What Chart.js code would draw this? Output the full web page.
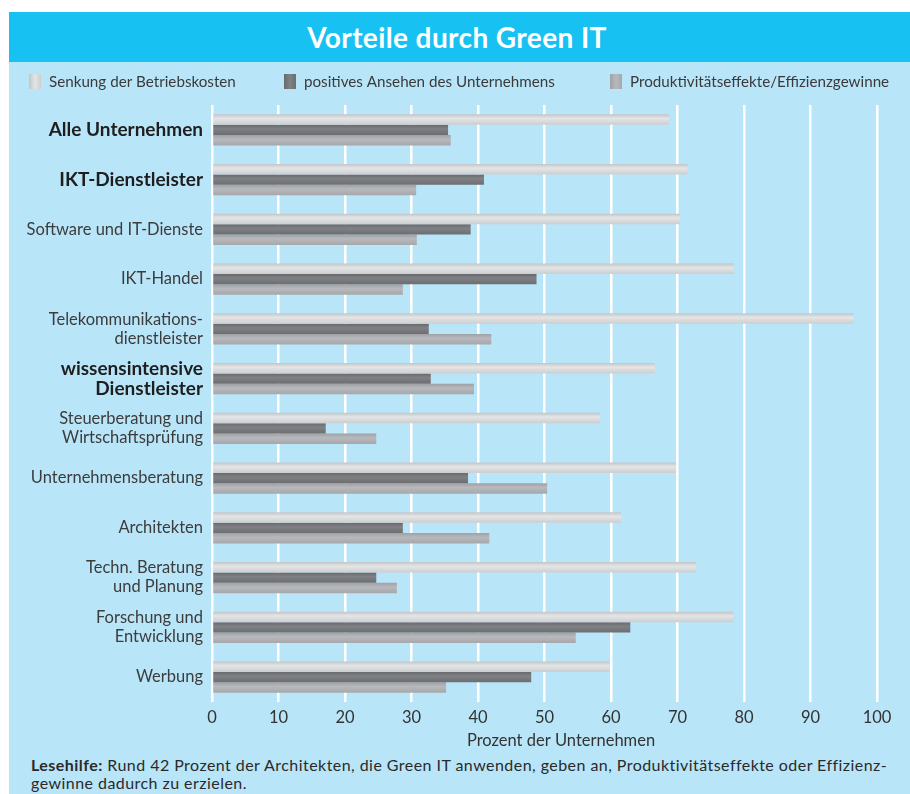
<!DOCTYPE html>
<html>
<head>
<meta charset="utf-8">
<script src="https://cdn.jsdelivr.net/npm/chart.js@4"></script>
<style>
  body { margin: 0; width: 910px; height: 794px; background: #fff; position: relative; overflow: hidden; font-family: Lato, "Open Sans", sans-serif; }
  #panel { position: absolute; left: 9px; top: 12px; right: 0; bottom: 0; background: #b9e5f9; }
  #banner { position: absolute; left: 9px; top: 12px; right: 0; height: 50px; background: #17c2f2; color: #fff;
            font-weight: bold; font-size: 28px; letter-spacing: 0.4px; line-height: 50px; text-align: center; padding-right: 5px; }
  #chart { position: absolute; left: 0; top: 62px; }
  #note { position: absolute; left: 31px; top: 756px; font-size: 16px; letter-spacing: 0.45px; line-height: 18px; color: #2a2a2a; white-space: nowrap; }
</style>
</head>
<body>
<div id="panel"></div>
<div id="banner">Vorteile durch Green IT</div>
<canvas id="chart" width="910" height="690"></canvas>
<div id="note"><b>Lesehilfe:</b> Rund 42 Prozent der Architekten, die Green IT anwenden, geben an, Produktivitätseffekte oder Effizienz-<br>gewinne dadurch zu erzielen.</div>
<script>
document.addEventListener("DOMContentLoaded", function () {
  const categories = [
    "Alle Unternehmen",
    "IKT-Dienstleister",
    "Software und IT-Dienste",
    "IKT-Handel",
    ["Telekommunikations-", "dienstleister"],
    ["wissensintensive", "Dienstleister"],
    ["Steuerberatung und", "Wirtschaftsprüfung"],
    "Unternehmensberatung",
    "Architekten",
    ["Techn. Beratung", "und Planung"],
    ["Forschung und", "Entwicklung"],
    "Werbung"
  ];
  const boldRows = [0, 1, 5];

  const seriesNames = ["Senkung der Betriebskosten", "positives Ansehen des Unternehmens", "Produktivitätseffekte/Effizienzgewinne"];
  const senkung = [68.7, 71.5, 70.4, 78.5, 96.5, 66.6, 58.3, 69.8, 61.5, 72.8, 78.4, 59.8];
  const ansehen = [35.5, 40.9, 38.9, 48.8, 32.6, 32.9, 17.1, 38.5, 28.7, 24.7, 62.9, 48.0];
  const produktiv = [35.9, 30.7, 30.8, 28.7, 42.0, 39.4, 24.7, 50.4, 41.7, 27.8, 54.7, 35.2];
  const xTicks = [0, 10, 20, 30, 40, 50, 60, 70, 80, 90, 100];
  const xTitle = "Prozent der Unternehmen";

  // gradient stops per series: edge, middle, edge
  const shades = [
    ["#c3c4c6", "#e4e5e7", "#cdcecf"],
    ["#68696d", "#808185", "#6c6d71"],
    ["#a0a1a4", "#b8b9bc", "#a6a7aa"]
  ];
  const swatch = ["#d6d7d9", "#747579", "#adaeb1"];
  const catPct = 0.63;

  function barGradient(ctx) {
    const chart = ctx.chart;
    const y = chart.scales.y;
    if (!y || ctx.type !== "data") return swatch[ctx.datasetIndex];
    const band = (y.bottom - y.top) / categories.length;
    const size = band * catPct / 3;
    const c = y.getPixelForValue(ctx.dataIndex) + (ctx.datasetIndex - 1) * size;
    if (!isFinite(c) || !isFinite(size) || size <= 0) return swatch[ctx.datasetIndex];
    const g = chart.ctx.createLinearGradient(0, c - size / 2, 0, c + size / 2);
    const s = shades[ctx.datasetIndex];
    g.addColorStop(0, s[0]);
    g.addColorStop(0.4, s[1]);
    g.addColorStop(1, s[2]);
    return g;
  }

  // legend row at the top, axis title under the ticks (sits right of centre in the original)
  const decor = {
    id: "decor",
    afterDraw(chart) {
      const c = chart.ctx;
      const xs = [29, 284, 610];
      c.save();
      c.font = "15.2px Lato, 'Open Sans', sans-serif";
      c.textBaseline = "middle";
      seriesNames.forEach((n, i) => {
        const g = c.createLinearGradient(xs[i], 0, xs[i] + 12, 0);
        g.addColorStop(0, shades[i][0]);
        g.addColorStop(0.5, shades[i][1]);
        g.addColorStop(1, shades[i][2]);
        c.fillStyle = g;
        c.fillRect(xs[i], 12, 12, 15);
        c.fillStyle = "#3a3a3a";
        c.fillText(n, xs[i] + 20, 20);
      });
      c.font = "16.5px Lato, 'Open Sans', sans-serif";
      c.textAlign = "center";
      c.fillStyle = "#333";
      c.fillText(xTitle, 561, chart.chartArea.bottom + 39);
      c.restore();
    }
  };

  const datasets = [senkung, ansehen, produktiv].map((d, i) => ({
    label: seriesNames[i],
    data: d,
    backgroundColor: barGradient,
    borderWidth: 0,
    barPercentage: 1,
    categoryPercentage: catPct
  }));

  new Chart(document.getElementById("chart").getContext("2d"), {
    type: "bar",
    data: { labels: categories, datasets: datasets },
    plugins: [decor],
    options: {
      indexAxis: "y",
      responsive: false,
      animation: false,
      layout: { padding: { top: 43, right: 33, left: 0, bottom: 0 } },
      plugins: { legend: { display: false }, tooltip: { enabled: false } },
      scales: {
        x: {
          min: 0,
          max: 100,
          afterBuildTicks: s => { s.ticks = xTicks.map(v => ({ value: v })); },
          afterFit: s => { s.height = 50; },
          grid: { color: "#ffffff", lineWidth: 2.5, drawTicks: false },
          border: { display: false },
          ticks: { color: "#333", padding: 6, font: { family: "Lato", size: 16.5 } },
          title: { display: false }
        },
        y: {
          afterFit: s => { s.width = 212; },
          grid: { display: false, drawTicks: false },
          border: { display: false },
          ticks: {
            padding: 9,
            autoSkip: false,
            color: ctx => boldRows.includes(ctx.index) ? "#1e1e1e" : "#3c3c3c",
            font: ctx => boldRows.includes(ctx.index)
              ? { family: "Lato", size: 19, weight: "bold", lineHeight: 1.05 }
              : { family: "Lato", size: 16.5, weight: "normal", lineHeight: 1.15 }
          }
        }
      }
    }
  });
});
</script>
</body>
</html>
